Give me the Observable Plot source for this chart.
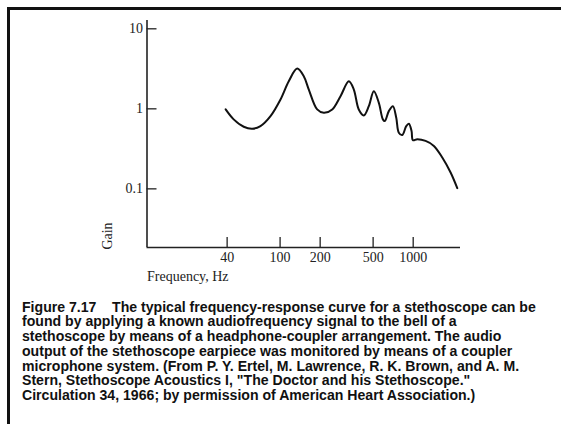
<!DOCTYPE html>
<html>
<head>
<meta charset="utf-8">
<script src="https://cdn.jsdelivr.net/npm/d3@7"></script>
<script src="https://cdn.jsdelivr.net/npm/@observablehq/plot@0.6"></script>
<style>
  html, body { margin: 0; padding: 0; background: #fff; }
  #wrap { position: relative; width: 561px; height: 424px; overflow: hidden; background: #fff; }
  #frame { position: absolute; left: 7px; top: 7px; width: 700px; height: 600px;
           border-left: 3px solid #111; border-top: 3px solid #111; }
  #chart { position: absolute; left: 0; top: 0; }
  .lbl { position: absolute; font-family: "Liberation Serif", "Times New Roman", serif; font-size: 14px; color: #222; white-space: nowrap; }
  #gain { left: 108px; top: 236px; transform: translate(-50%, -50%) rotate(-90deg); }
  #freq { left: 147px; top: 269px; }
  #caption { position: absolute; left: 22px; top: 299.5px;
             font-family: "Liberation Sans", Arial, sans-serif; font-weight: bold; font-size: 14.1px;
             line-height: 14.8px; color: #111; white-space: nowrap; }
</style>
</head>
<body>
<div id="wrap">
  <div id="frame"></div>
  <div id="chart"></div>
  <div class="lbl" id="gain">Gain</div>
  <div class="lbl" id="freq">Frequency, Hz</div>
  <div id="caption"></div>
</div>
<script>
// Frequency (Hz) and gain
const freq = [39, 44.8, 53.3, 61.7, 71.2, 84.7, 100.7, 116.2, 134.4, 150.6, 164.3, 190, 213, 246.4, 284.4, 328.5, 358, 390, 425.6, 464, 506, 552, 592, 612, 656, 704, 746, 780, 828, 887, 928, 972, 995, 1073, 1239, 1430, 1654, 1910, 2144];
const gain = [0.983, 0.738, 0.597, 0.564, 0.609, 0.811, 1.309, 2.211, 3.181, 2.551, 1.743, 0.983, 0.892, 0.983, 1.439, 2.211, 1.743, 0.983, 0.828, 1.080, 1.660, 1.187, 0.738, 0.703, 0.936, 1.080, 0.773, 0.503, 0.471, 0.609, 0.651, 0.528, 0.405, 0.416, 0.397, 0.344, 0.246, 0.160, 0.102];

const xTicks = [40, 100, 200, 500, 1000];
const xTickLabels = ["40", "100", "200", "500", "1000"];
const yTicks = [0.1, 1, 10];
const yTickLabels = ["0.1", "1", "10"];
const xDomain = [10, 2267];
const yDomain = [0.0185, 12.7];

const captionLines = [
  "Figure 7.17\u00a0\u00a0\u00a0 The typical frequency-response curve for a stethoscope can be",
  "found by applying a known audiofrequency signal to the bell of a",
  "stethoscope by means of a headphone-coupler arrangement. The audio",
  "output of the stethoscope earpiece was monitored by means of a coupler",
  "microphone system. (From P. Y. Ertel, M. Lawrence, R. K. Brown, and A. M.",
  "Stern, Stethoscope Acoustics I, \"The Doctor and his Stethoscope.\"",
  "Circulation 34, 1966; by permission of American Heart Association.)"
];

const data = freq.map((f, i) => ({f, g: gain[i]}));
const xl = xTicks.map((v, i) => ({v, t: xTickLabels[i]}));

const chart = Plot.plot({
  width: 561,
  height: 290,
  marginLeft: 146.5,
  marginRight: 101,
  marginTop: 20,
  marginBottom: 43,
  style: {fontFamily: '"Liberation Serif", "Times New Roman", serif', fontSize: "14px", color: "#222", background: "transparent"},
  x: {type: "log", domain: xDomain},
  y: {type: "log", domain: yDomain},
  marks: [
    // labels of the gain axis
    Plot.axisY(yTicks, {tickSize: 0, tickPadding: 4, tickFormat: d => yTickLabels[yTicks.indexOf(d)], label: null, fontSize: 14}),
    // inward-pointing tick marks
    Plot.axisY(yTicks, {tickSize: 10, dx: 10, tickFormat: () => "", label: null, stroke: "#222", strokeWidth: 1.3}),
    Plot.axisX(xTicks, {tickSize: 10, dy: -10, tickFormat: () => "", label: null, stroke: "#222", strokeWidth: 1.3}),
    // frequency labels
    Plot.text(xl, {x: "v", y: () => yDomain[0], text: "t", dy: 10, fontSize: 14, fill: "#222"}),
    // axis lines
    Plot.ruleX([xDomain[0]], {y1: yDomain[0], y2: yDomain[1], stroke: "#222", strokeWidth: 1.6}),
    Plot.ruleY([yDomain[0]], {x1: xDomain[0], x2: xDomain[1], stroke: "#222", strokeWidth: 1.6}),
    // response curve
    Plot.line(data, {x: "f", y: "g", curve: "catmull-rom", stroke: "#111", strokeWidth: 2})
  ]
});
document.getElementById("chart").appendChild(chart);

const cap = document.getElementById("caption");
captionLines.forEach((t, i) => {
  if (i) cap.appendChild(document.createElement("br"));
  cap.appendChild(document.createTextNode(t));
});
</script>
</body>
</html>
